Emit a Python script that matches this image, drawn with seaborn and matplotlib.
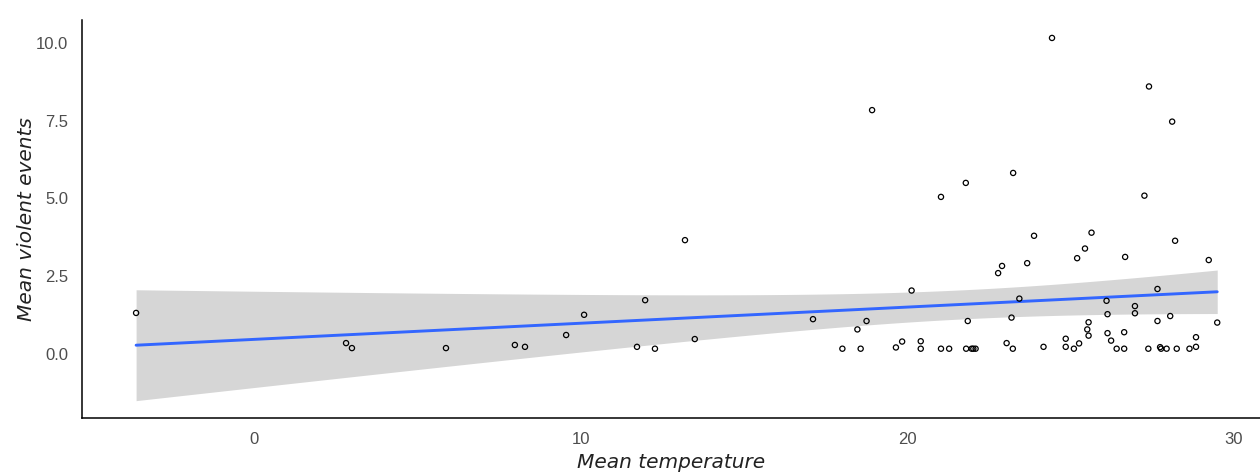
import matplotlib
matplotlib.use("Agg")
import matplotlib.pyplot as plt
import numpy as np
import pandas as pd
import seaborn as sns

# values
temperature = [
    -3.61, 2.82, 3.00, 5.88, 7.99, 8.30, 9.56, 10.11, 11.73, 11.98, 12.28, 13.20, 13.50, 17.12,
    18.02, 18.48, 18.58, 18.76, 18.93, 19.66, 19.85, 20.14, 20.42, 20.42, 21.04, 21.04, 21.29,
    21.80, 21.81, 21.86, 21.98, 22.03, 22.10, 22.79, 22.91, 23.05, 23.20, 23.24, 23.25, 23.44,
    23.68, 23.89, 24.18, 24.44, 24.86, 24.86, 25.11, 25.21, 25.27, 25.45, 25.52, 25.56, 25.56,
    25.65, 26.11, 26.14, 26.14, 26.25, 26.42, 26.65, 26.65, 26.68, 26.98, 26.98, 27.27, 27.39,
    27.41, 27.67, 27.67, 27.75, 27.78, 27.95, 28.06, 28.12, 28.21, 28.26, 28.65, 28.85, 28.85,
    29.24, 29.50,
]
violent = [
    1.32, 0.35, 0.19, 0.19, 0.29, 0.23, 0.61, 1.26, 0.23, 1.73, 0.17, 3.66, 0.48, 1.12,
    0.17, 0.79, 0.17, 1.06, 7.84, 0.21, 0.40, 2.04, 0.41, 0.17, 0.17, 5.05, 0.17,
    5.50, 0.17, 1.06, 0.17, 0.17, 0.17, 2.60, 2.83, 0.35, 1.17, 0.17, 5.82, 1.78,
    2.92, 3.80, 0.23, 10.16, 0.49, 0.23, 0.17, 3.08, 0.34, 3.39, 0.79, 1.02, 0.59,
    3.90, 1.71, 1.28, 0.67, 0.43, 0.17, 0.17, 0.70, 3.12, 1.54, 1.31, 5.09, 0.17,
    8.60, 2.09, 1.06, 0.22, 0.17, 0.17, 1.22, 7.47, 3.64, 0.17, 0.17, 0.23, 0.54,
    3.02, 1.01,
]

df = pd.DataFrame({"temp": temperature, "violent": violent})

# linear fit with the usual t-based 95% band
x = df["temp"].values
y = df["violent"].values
n = len(x)
slope, intercept = np.polyfit(x, y, 1)
resid = y - (intercept + slope * x)
s = np.sqrt(np.sum(resid ** 2) / (n - 2))
grid = np.linspace(x.min(), x.max(), 200)
fit = intercept + slope * grid
se = s * np.sqrt(1 / n + (grid - x.mean()) ** 2 / np.sum((x - x.mean()) ** 2))
tval = 1.99
band = pd.DataFrame({"temp": grid, "fit": fit, "lo": fit - tval * se, "hi": fit + tval * se})

sns.set_style("white")
plt.rcParams['font.family'] = ['Liberation Sans', 'DejaVu Sans']

fig = plt.figure(figsize=(12.6, 4.74), dpi=100)
ax = fig.add_axes([0.065, 0.118, 0.935, 0.84])

ax.fill_between(band["temp"], band["lo"], band["hi"], color="#d6d6d6", linewidth=0, zorder=1)
sns.lineplot(data=band, x="temp", y="fit", color="#3366FF", linewidth=2.1, ax=ax, zorder=2)
sns.scatterplot(data=df, x="temp", y="violent", ax=ax, s=14, facecolor="none",
                edgecolor="black", linewidth=0.9, zorder=3)

ax.set_xlim(-5.27, 30.81)
ax.set_ylim(-2.06, 10.74)
ax.set_xticks([0, 10, 20, 30])
ax.set_yticks([0, 2.5, 5, 7.5, 10])
ax.set_yticklabels(["0.0", "2.5", "5.0", "7.5", "10.0"])
ax.tick_params(length=0, labelsize=12, labelcolor="#4d4d4d", pad=10)

sns.despine(ax=ax)
for side in ["left", "bottom"]:
    ax.spines[side].set_color("black")
    ax.spines[side].set_linewidth(1.1)

lab = dict(fontsize=14.5, style="italic", color="#222222", family=["DejaVu Sans"])
ax.set_xlabel("Mean temperature", labelpad=4, **lab)
ax.set_ylabel("Mean violent events", labelpad=0, **lab)

fig.savefig("out.png", dpi=100)
